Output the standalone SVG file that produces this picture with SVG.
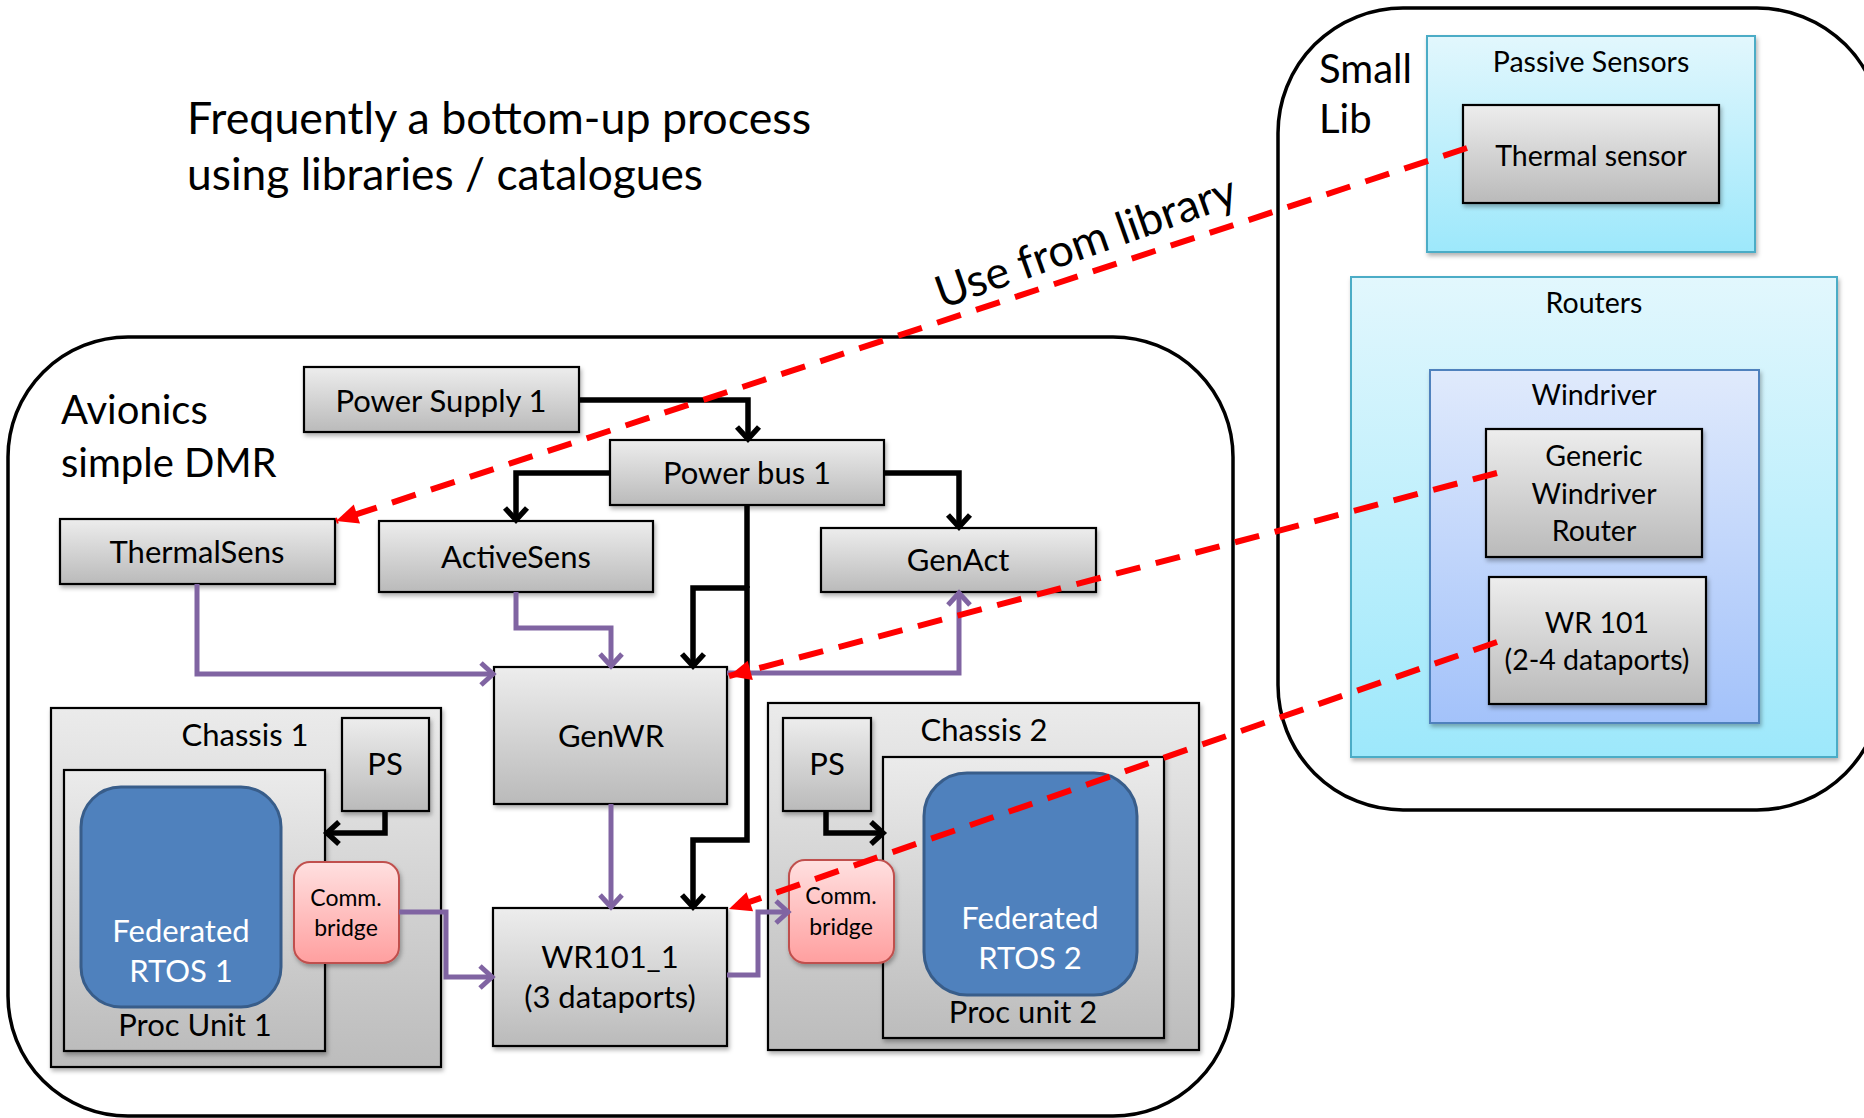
<svg xmlns="http://www.w3.org/2000/svg" width="1864" height="1118" viewBox="0 0 1864 1118">
<style>
text{font-family:Lato,"Liberation Sans",sans-serif;fill:#000}
.lbl{font-size:31px;text-anchor:middle}
.lib{font-size:28.5px;text-anchor:middle}
.cb{font-size:23px;text-anchor:middle}
.big{font-size:40px}
.wt{fill:#fff;font-size:31px;text-anchor:middle}
.box{fill:url(#gGray);stroke:#000;stroke-width:2.2;filter:url(#sh)}
.cont{fill:url(#gGray2);stroke:#000;stroke-width:2.2;filter:url(#sh)}
.outer{fill:none;stroke:#000;stroke-width:3.5}
.cyan{fill:url(#gCyan);stroke:#4bacc6;stroke-width:2;filter:url(#sh)}
.blue{fill:url(#gBlue);stroke:#4f81bd;stroke-width:2;filter:url(#sh)}
.pink{fill:url(#gPink);stroke:#c0504d;stroke-width:2;filter:url(#sh)}
.rtos{fill:#4f81bd;stroke:#385d8a;stroke-width:3}
.blk{fill:none;stroke:#000;stroke-width:5.5;marker-end:url(#aBlk)}
.blkn{fill:none;stroke:#000;stroke-width:5.5}
.pur{fill:none;stroke:#8064a2;stroke-width:5;marker-end:url(#aPur)}
.red{fill:none;stroke:#ff0000;stroke-width:6;stroke-dasharray:25 16;marker-end:url(#aRed)}
</style>
<defs>
<linearGradient id="gGray" x1="0" y1="0" x2="0" y2="1"><stop offset="0" stop-color="#ededed"/><stop offset="1" stop-color="#bababa"/></linearGradient>
<linearGradient id="gGray2" x1="0" y1="0" x2="0" y2="1"><stop offset="0" stop-color="#ebebeb"/><stop offset="1" stop-color="#bcbcbc"/></linearGradient>
<linearGradient id="gCyan" x1="0" y1="0" x2="0" y2="1"><stop offset="0" stop-color="#e2f7fd"/><stop offset="1" stop-color="#9de8fb"/></linearGradient>
<linearGradient id="gBlue" x1="0" y1="0" x2="0" y2="1"><stop offset="0" stop-color="#e0eafc"/><stop offset="1" stop-color="#a3c2fa"/></linearGradient>
<linearGradient id="gPink" x1="0" y1="0" x2="0" y2="1"><stop offset="0" stop-color="#ffe0e0"/><stop offset="1" stop-color="#ff9f9f"/></linearGradient>
<filter id="sh" x="-10%" y="-10%" width="120%" height="130%"><feDropShadow dx="1.5" dy="3" stdDeviation="2" flood-color="#000" flood-opacity="0.3"/></filter>
<marker id="aBlk" markerUnits="userSpaceOnUse" markerWidth="30" markerHeight="30" refX="24" refY="15" orient="auto"><path d="M11,4 L23,15 L11,26" fill="none" stroke="#000" stroke-width="5.5"/></marker>
<marker id="aPur" markerUnits="userSpaceOnUse" markerWidth="30" markerHeight="30" refX="24" refY="15" orient="auto"><path d="M11,4 L23,15 L11,26" fill="none" stroke="#8064a2" stroke-width="5"/></marker>
<marker id="aRed" markerUnits="userSpaceOnUse" markerWidth="30" markerHeight="30" refX="24" refY="15" orient="auto"><path d="M2,5 L24,15 L2,25 z" fill="#ff0000"/></marker>
</defs>
<rect width="1864" height="1118" fill="#fff"/>

<g id="title">
<text x="187" y="134" style="font-size:45px" textLength="624" lengthAdjust="spacingAndGlyphs">Frequently a bottom-up process</text>
<text x="187" y="190" style="font-size:45px" textLength="516" lengthAdjust="spacingAndGlyphs">using libraries / catalogues</text>
</g>

<g id="avionics">
<rect class="outer" x="8" y="337" width="1225" height="779" rx="120" ry="120"/>
<text class="big" x="61" y="424">Avionics</text>
<text class="big" x="61" y="477">simple DMR</text>
</g>

<g id="small-lib">
<rect class="outer" x="1278" y="8" width="604" height="802" rx="125" ry="125"/>
<text class="big" x="1319" y="83">Small</text>
<text class="big" x="1319" y="133">Lib</text>
</g>

<g id="passive-sensors">
<rect class="cyan" x="1427" y="36" width="328" height="216"/>
<text class="lib" x="1591" y="72">Passive Sensors</text>
</g>
<g id="thermal-sensor">
<rect class="box" x="1463" y="105" width="256" height="98"/>
<text class="lib" x="1591" y="166">Thermal sensor</text>
</g>
<g id="routers">
<rect class="cyan" x="1351" y="277" width="486" height="480"/>
<text class="lib" x="1594" y="313">Routers</text>
</g>
<g id="windriver">
<rect class="blue" x="1430" y="370" width="329" height="353"/>
<text class="lib" x="1594" y="405">Windriver</text>
</g>
<g id="generic-windriver-router">
<rect class="box" x="1486" y="429" width="216" height="128"/>
<text class="lib" x="1594" y="466">Generic</text>
<text class="lib" x="1594" y="504">Windriver</text>
<text class="lib" x="1594" y="541">Router</text>
</g>
<g id="wr101">
<rect class="box" x="1489" y="577" width="217" height="127"/>
<text class="lib" x="1597" y="633">WR 101</text>
<text class="lib" x="1597" y="670">(2-4 dataports)</text>
</g>

<g id="power-supply-1">
<rect class="box" x="304" y="367" width="275" height="65"/>
<text class="lbl" x="441" y="412">Power Supply 1</text>
</g>
<g id="power-bus-1">
<rect class="box" x="610" y="440" width="274" height="65"/>
<text class="lbl" x="747" y="484">Power bus 1</text>
</g>
<g id="thermalsens">
<rect class="box" x="60" y="519" width="275" height="65"/>
<text class="lbl" x="197" y="563">ThermalSens</text>
</g>
<g id="activesens">
<rect class="box" x="379" y="521" width="274" height="71"/>
<text class="lbl" x="516" y="568">ActiveSens</text>
</g>
<g id="genact">
<rect class="box" x="821" y="528" width="275" height="64"/>
<text class="lbl" x="958" y="571">GenAct</text>
</g>
<g id="genwr">
<rect class="box" x="494" y="667" width="233" height="137"/>
<text class="lbl" x="611" y="747">GenWR</text>
</g>
<g id="wr101-1">
<rect class="box" x="493" y="908" width="234" height="138"/>
<text class="lbl" x="610" y="968">WR101_1</text>
<text class="lbl" x="610" y="1008">(3 dataports)</text>
</g>

<g id="chassis-1">
<rect class="cont" x="51" y="708" width="390" height="359"/>
<text class="lbl" x="245" y="746">Chassis 1</text>
</g>
<g id="proc-unit-1">
<rect class="cont" x="64" y="770" width="261" height="281"/>
<text class="lbl" x="195" y="1036">Proc Unit 1</text>
</g>
<g id="ps-1">
<rect class="box" x="342" y="718" width="87" height="93"/>
<text class="lbl" x="385" y="775">PS</text>
</g>
<g id="rtos-1">
<rect class="rtos" x="81" y="787" width="200" height="220" rx="40" ry="40"/>
<text class="wt" x="181" y="942">Federated</text>
<text class="wt" x="181" y="982">RTOS 1</text>
</g>
<g id="comm-bridge-1">
<rect class="pink" x="294" y="862" width="105" height="101" rx="16" ry="16"/>
<text class="cb" x="346" y="906">Comm.</text>
<text class="cb" x="346" y="936">bridge</text>
</g>

<g id="chassis-2">
<rect class="cont" x="768" y="703" width="431" height="347"/>
<text class="lbl" x="984" y="741">Chassis 2</text>
</g>
<g id="proc-unit-2">
<rect class="cont" x="883" y="757" width="281" height="281"/>
<text class="lbl" x="1023" y="1023">Proc unit 2</text>
</g>
<g id="ps-2">
<rect class="box" x="783" y="718" width="88" height="93"/>
<text class="lbl" x="827" y="775">PS</text>
</g>
<g id="rtos-2">
<rect class="rtos" x="924" y="773" width="213" height="222" rx="43" ry="43"/>
<text class="wt" x="1030" y="929">Federated</text>
<text class="wt" x="1030" y="969">RTOS 2</text>
</g>
<g id="comm-bridge-2">
<rect class="pink" x="789" y="860" width="105" height="103" rx="16" ry="16"/>
<text class="cb" x="841" y="904">Comm.</text>
<text class="cb" x="841" y="935">bridge</text>
</g>

<g id="connectors">
<path class="blk" d="M579,400 H748 V440"/>
<path class="blk" d="M610,473 H516 V521"/>
<path class="blk" d="M884,473 H959 V528"/>
<path class="blkn" d="M747,505 V588"/>
<path class="blk" d="M747,588 H693 V667"/>
<path class="blk" d="M747,586 V840 H693 V908"/>
<path class="blk" d="M385,811 V833 H326"/>
<path class="blk" d="M826,811 V833 H884"/>
<path class="pur" d="M197,584 V674 H494"/>
<path class="pur" d="M516,592 V628 H611 V667"/>
<path class="pur" d="M727,673 H959 V592"/>
<path class="pur" d="M611,804 V908"/>
<path class="pur" d="M399,912 H446 V977 H493"/>
<path class="pur" d="M727,975 H758 V912 H789"/>
<path class="red" d="M1467,148 L336,521"/>
<path class="red" d="M1497,473 L729,676"/>
<path class="red" d="M1497,642 L729,909"/>
<text x="942" y="309" transform="rotate(-19.5 942 309)" style="font-size:45px" textLength="316" lengthAdjust="spacingAndGlyphs">Use from library</text>
</g>
</svg>
